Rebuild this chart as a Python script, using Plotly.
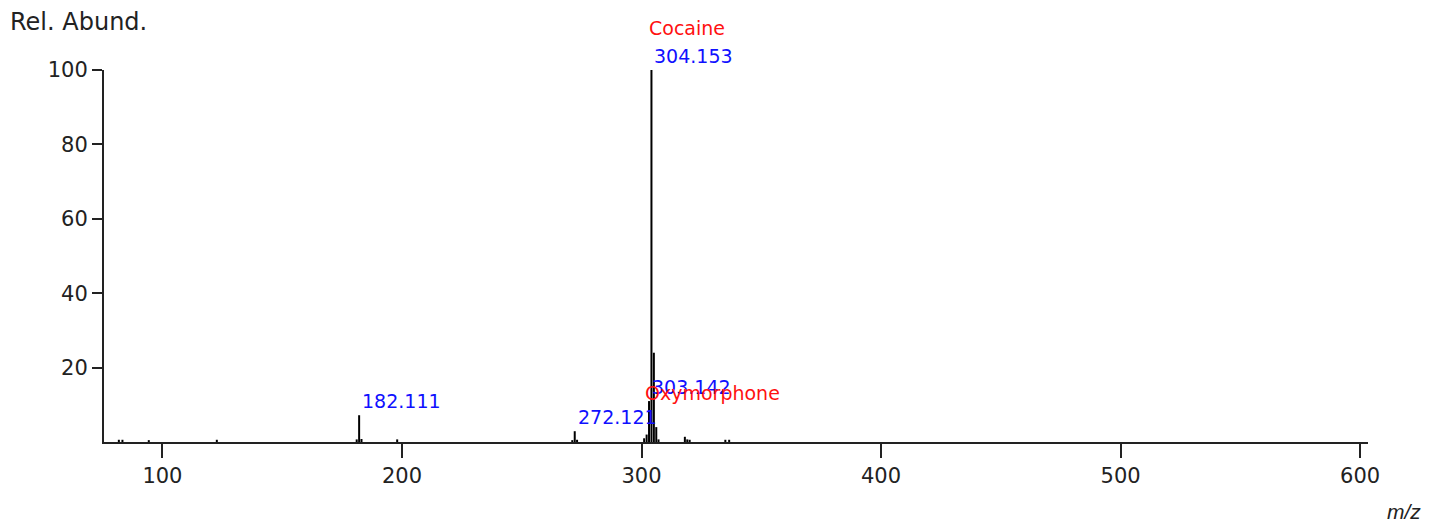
import plotly.graph_objects as go

# Spectrum sticks (m/z, relative abundance %)
mz = [81.8, 83.3, 94.3, 122.7, 181.1, 182.111, 183.1, 198.0,
      271.1, 272.121, 273.1, 301.1, 302.139, 303.142, 304.153, 305.156,
      306.16, 307.1, 318.1, 319.1, 320.1, 335.0, 336.6]
abund = [0.6, 0.6, 0.5, 0.6, 0.7, 7.2, 0.8, 0.7,
         0.5, 2.9, 0.6, 1.0, 2.0, 11.0, 100.0, 24.0,
         4.0, 0.7, 1.4, 0.7, 0.6, 0.6, 0.6]

# Mass labels (blue)
mass_label_mz = [182.111, 272.121, 303.142, 304.153]
mass_label_ab = [7.2, 2.9, 11.0, 100.0]
mass_label_txt = ["182.111", "272.121", "303.142", "304.153"]

# Compound labels (red)
cmpd_mz = [304.153, 302.139]
cmpd_ab = [100.0, 2.0]
cmpd_txt = ["Cocaine", "Oxymorphone"]

x_ticks = [100, 200, 300, 400, 500, 600]
y_ticks = [20, 40, 60, 80, 100]

FONT = "DejaVu Sans, Verdana, sans-serif"
FONT2 = "Liberation Sans, Arial, sans-serif"

xs, ys = [], []
for m, a in zip(mz, abund):
    xs += [m, m, None]
    ys += [0, a, None]

fig = go.Figure()
fig.add_trace(go.Scatter(x=xs, y=ys, mode="lines",
                         line=dict(color="black", width=2),
                         hoverinfo="skip", showlegend=False, cliponaxis=False))

annotations = []
for m, a, t in zip(mass_label_mz, mass_label_ab, mass_label_txt):
    annotations.append(dict(x=m, y=a, xref="x", yref="y", text=t, showarrow=False,
                            xanchor="left", yanchor="bottom", xshift=1, yshift=1,
                            font=dict(family=FONT, size=19, color="#1010ff")))
for m, a, t in zip(cmpd_mz, cmpd_ab, cmpd_txt):
    annotations.append(dict(x=m, y=a, xref="x", yref="y", text=t, showarrow=False,
                            xanchor="left", yanchor="bottom", xshift=-4, yshift=29,
                            font=dict(family=FONT, size=19, color="#ff1010")))
annotations.append(dict(x=-0.076, y=1.129, xref="paper", yref="paper", text="Rel. Abund.",
                        showarrow=False, xanchor="left", yanchor="middle",
                        font=dict(family=FONT, size=24, color="#222")))
annotations.append(dict(x=1.0435, y=-0.188, xref="paper", yref="paper", text="<i>m/z</i>",
                        showarrow=False, xanchor="right", yanchor="middle",
                        font=dict(family=FONT2, size=21, color="#222")))

fig.update_layout(
    width=1440, height=519,
    margin=dict(l=96, r=80, t=62, b=85),
    paper_bgcolor="white", plot_bgcolor="white",
    annotations=annotations,
    xaxis=dict(range=[75.6, 603.3], tickvals=x_ticks, ticktext=[str(v) for v in x_ticks],
               showgrid=False, zeroline=False, showline=True, linecolor="#222", linewidth=2,
               ticks="outside", ticklen=14, tickwidth=2, tickcolor="#222",
               tickfont=dict(family=FONT, size=21, color="#222")),
    yaxis=dict(range=[0, 100], tickvals=y_ticks, ticktext=[str(v) for v in y_ticks],
               showgrid=False, zeroline=False, showline=True, linecolor="#222", linewidth=2,
               ticks="outside", ticklen=10, tickwidth=2, tickcolor="#222",
               tickfont=dict(family=FONT, size=21, color="#222")),
)

fig.write_html("out.html")
